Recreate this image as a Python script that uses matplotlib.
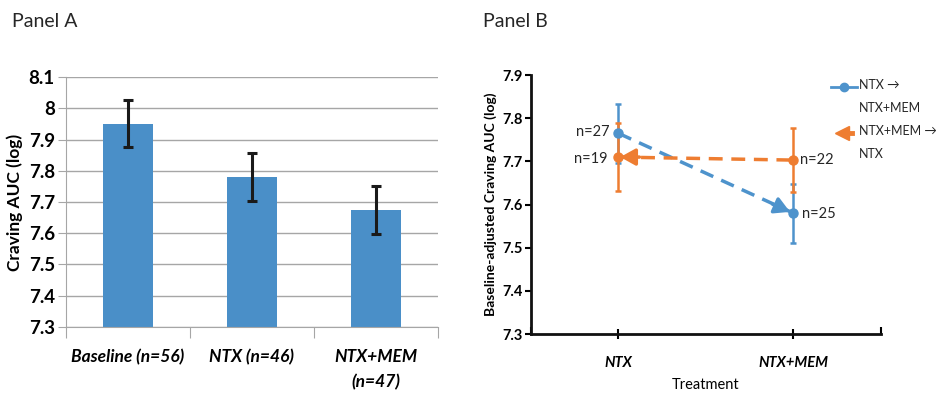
import numpy as np
import matplotlib.pyplot as plt
from matplotlib.lines import Line2D

# Panel A data
A_LABELS = ["Baseline (n=56)", "NTX (n=46)", "NTX+MEM\n(n=47)"]
A_MEANS = [7.95, 7.78, 7.675]
A_ERR = [0.075, 0.077, 0.077]

# Panel B data
B_CATS = ["NTX", "NTX+MEM"]
BLUE_MEANS = [7.765, 7.58]
BLUE_ERR = [0.068, 0.068]
BLUE_N = ["n=27", "n=25"]
ORANGE_MEANS = [7.71, 7.703]
ORANGE_ERR = [0.078, 0.074]
ORANGE_N = ["n=19", "n=22"]
LEG_LABELS = ["NTX →\nNTX+MEM", "NTX+MEM →\nNTX"]

BAR_C = "#4a8fc8"
BLUE = "#4e93cc"
ORANGE = "#ee7d31"
GRID = "#a6a6a6"
TXT = "#262626"

plt.rcParams["font.family"] = ["Lato", "DejaVu Sans"]
plt.rcParams["text.color"] = TXT

W, H = 937, 393
fig = plt.figure(figsize=(W / 100, H / 100), dpi=100)

# ---------------- Panel A ----------------
axA = fig.add_axes([0.0704, 0.168, 0.397, 0.636])
x = np.arange(len(A_MEANS))
axA.bar(x, A_MEANS, 0.4, bottom=0, color=BAR_C, zorder=2)
axA.errorbar(x, A_MEANS, yerr=A_ERR, fmt="none", ecolor="#1a1a1a",
             elinewidth=2.2, capsize=3.5, capthick=2.2, zorder=3)
axA.set_ylim(7.3, 8.1)
axA.set_xlim(-0.5, 2.5)
axA.set_yticks(np.arange(7.3, 8.11, 0.1))
axA.set_yticklabels(["7.3", "7.4", "7.5", "7.6", "7.7", "7.8", "7.9", "8", "8.1"])
axA.yaxis.grid(True, color=GRID, lw=1.0, zorder=0)
axA.set_axisbelow(True)
for s in ["top", "right"]:
    axA.spines[s].set_visible(False)
for s in ["left", "bottom"]:
    axA.spines[s].set_color(GRID)
axA.tick_params(axis="y", length=6, color=GRID, labelsize=13.5, pad=2)
for t in axA.get_yticklabels():
    t.set_fontweight("bold")
axA.set_xticks([-0.5, 0.5, 1.5, 2.5])
axA.set_xticklabels([])
axA.tick_params(axis="x", length=8, color=GRID)
axA.set_xticks(x, minor=True)
axA.set_xticklabels(A_LABELS, minor=True, fontsize=12.5, style="italic",
                    fontweight="bold", va="top", linespacing=1.7)
axA.tick_params(axis="x", which="minor", length=0, pad=16)
axA.set_ylabel("Craving AUC (log)", fontsize=12.5, fontweight="bold", labelpad=4)
fig.text(0.013, 0.945, "Panel A", fontsize=14, va="center", ha="left")

# ---------------- Panel B ----------------
axB = fig.add_axes([0.5667, 0.150, 0.3735, 0.659])
xb = np.arange(len(B_CATS))
axB.errorbar(xb, BLUE_MEANS, yerr=BLUE_ERR, fmt="o", color=BLUE, ms=6.5,
             elinewidth=1.8, capsize=2.5, capthick=1.8, zorder=3)
axB.errorbar(xb, ORANGE_MEANS, yerr=ORANGE_ERR, fmt="o", color=ORANGE, ms=6.5,
             elinewidth=1.8, capsize=2.5, capthick=1.8, zorder=3)
axB.plot(xb, BLUE_MEANS, ls=(0, (4, 2.5)), color=BLUE, lw=2.5, zorder=2)
axB.plot(xb, ORANGE_MEANS, ls=(0, (4, 2.5)), color=ORANGE, lw=2.5, zorder=2)
# arrowheads showing direction of crossover
axB.annotate("", xy=(xb[1] - 0.02, BLUE_MEANS[1] + 0.003),
             xytext=(xb[1] - 0.12, BLUE_MEANS[1] + 0.021),
             arrowprops=dict(arrowstyle="-|>,head_length=0.9,head_width=0.5",
                             color=BLUE, lw=2.5, shrinkA=0, shrinkB=0), zorder=4)
axB.annotate("", xy=(xb[0] + 0.01, ORANGE_MEANS[0]),
             xytext=(xb[0] + 0.12, ORANGE_MEANS[0]),
             arrowprops=dict(arrowstyle="-|>,head_length=0.9,head_width=0.5",
                             color=ORANGE, lw=2.5, shrinkA=0, shrinkB=0), zorder=4)
for xi, m, lab in zip(xb, BLUE_MEANS, BLUE_N):
    if xi == 0:
        axB.text(xi - 0.05, m + 0.004, lab, ha="right", va="center", fontsize=10.5)
    else:
        axB.text(xi + 0.05, m - 0.003, lab, ha="left", va="center", fontsize=10.5)
for xi, m, lab in zip(xb, ORANGE_MEANS, ORANGE_N):
    if xi == 0:
        axB.text(xi - 0.06, m - 0.004, lab, ha="right", va="center", fontsize=10.5)
    else:
        axB.text(xi + 0.04, m + 0.001, lab, ha="left", va="center", fontsize=10.5)
axB.set_xlim(-0.5, 1.5)
axB.set_ylim(7.3, 7.9)
axB.set_yticks(np.arange(7.3, 7.91, 0.1))
axB.set_yticklabels([f"{v:.1f}" for v in np.arange(7.3, 7.91, 0.1)])
axB.set_xticks(xb)
axB.set_xticklabels(B_CATS, fontsize=10.5, style="italic", fontweight="bold")
axB.tick_params(axis="x", direction="inout", length=7, width=1.5, pad=12)
axB.set_xticks([-0.5, 1.5], minor=True)
axB.tick_params(axis="x", which="minor", direction="in", length=5, width=1.5)
axB.tick_params(axis="y", length=4, width=1.5, labelsize=10.5, pad=2)
for t in axB.get_yticklabels():
    t.set_fontweight("bold")
for s in ["top", "right"]:
    axB.spines[s].set_visible(False)
for s in ["left", "bottom"]:
    axB.spines[s].set_linewidth(2)
    axB.spines[s].set_color("#111111")
axB.set_ylabel("Baseline-adjusted Craving AUC (log)", fontsize=10,
               fontweight="bold", labelpad=4)
axB.set_xlabel("Treatment", fontsize=10.5, labelpad=6)
fig.text(0.516, 0.945, "Panel B", fontsize=14, va="center", ha="left")

# legend drawn by hand so the key sits on the first line of each label
tf = fig.transFigure
y1, y2 = 1 - 87 / H, 1 - 133 / H
fig.add_artist(Line2D([831 / W, 857 / W], [y1, y1], transform=tf, color=BLUE, lw=2))
fig.add_artist(Line2D([844 / W], [y1], transform=tf, color=BLUE, marker="o", ms=6))
fig.add_artist(Line2D([843 / W, 852 / W], [y2, y2], transform=tf, color=ORANGE, lw=3.5))
fig.add_artist(Line2D([842 / W], [y2], transform=tf, color=ORANGE, marker="<", ms=10,
                      lw=0))
for yy, lab in zip([y1, y2], LEG_LABELS):
    fig.text(859 / W, yy + 8 / H, lab, fontsize=9, va="top", ha="left",
             linespacing=2.05)

fig.savefig("out.png", dpi=100)
